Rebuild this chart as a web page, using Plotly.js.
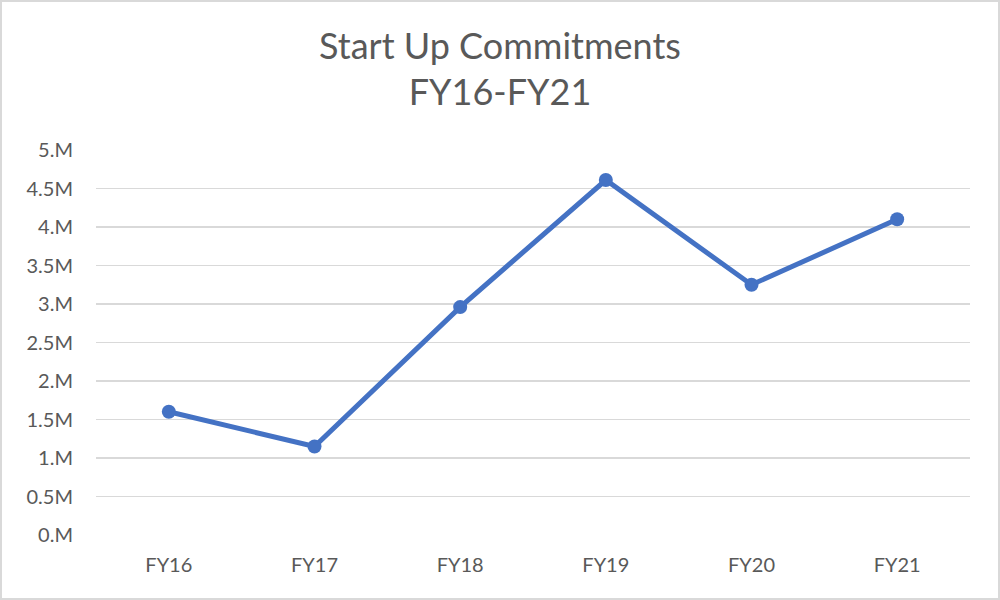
<!DOCTYPE html>
<html>
<head>
<meta charset="utf-8">
<script src="https://cdn.plot.ly/plotly-3.0.1.min.js"></script>
<style>
  html, body { margin: 0; padding: 0; background: #fff; }
  #chart { position: absolute; left: 0; top: 0; width: 996px; height: 596px; border: 2px solid #d9d9d9; }
</style>
</head>
<body>
<div id="chart"></div>
<script>
const categories = ["FY16", "FY17", "FY18", "FY19", "FY20", "FY21"];
const commitments = [1.6, 1.15, 2.96, 4.61, 3.25, 4.1];
const yTickVals = [0, 0.5, 1, 1.5, 2, 2.5, 3, 3.5, 4, 4.5, 5];
const yTickText = ["0.M", "0.5M", "1.M", "1.5M", "2.M", "2.5M", "3.M", "3.5M", "4.M", "4.5M", "5.M"];

const font = "Lato, 'Open Sans', sans-serif";
Plotly.newPlot("chart", [{
  x: categories,
  y: commitments,
  type: "scatter",
  mode: "lines+markers",
  line: { color: "#4472C4", width: 5 },
  marker: { color: "#4472C4", size: 14 },
  hoverinfo: "x+y"
}], {
  width: 996,
  height: 596,
  margin: { l: 94, r: 28, t: 148, b: 63 },
  paper_bgcolor: "#ffffff",
  plot_bgcolor: "#ffffff",
  showlegend: false,
  title: {
    text: "Start Up Commitments<br>FY16-FY21",
    font: { family: font, size: 36, color: "#595959" },
    x: 0.5, xanchor: "center",
    y: 0.905, yanchor: "top"
  },
  xaxis: {
    type: "category",
    range: [-0.5, 5.5],
    showgrid: false,
    showline: false,
    zeroline: false,
    ticks: "",
    tickfont: { family: font, size: 20, color: "#595959" },
    ticklabelstandoff: 16
  },
  yaxis: {
    range: [0, 5],
    tickvals: yTickVals,
    ticktext: yTickText,
    showgrid: true,
    gridcolor: "#d9d9d9",
    gridwidth: 1.5,
    zeroline: false,
    showline: false,
    ticks: "",
    tickfont: { family: font, size: 20, color: "#595959" },
    ticklabelstandoff: 22
  }
}, { displayModeBar: false, staticPlot: true });
</script>
</body>
</html>
